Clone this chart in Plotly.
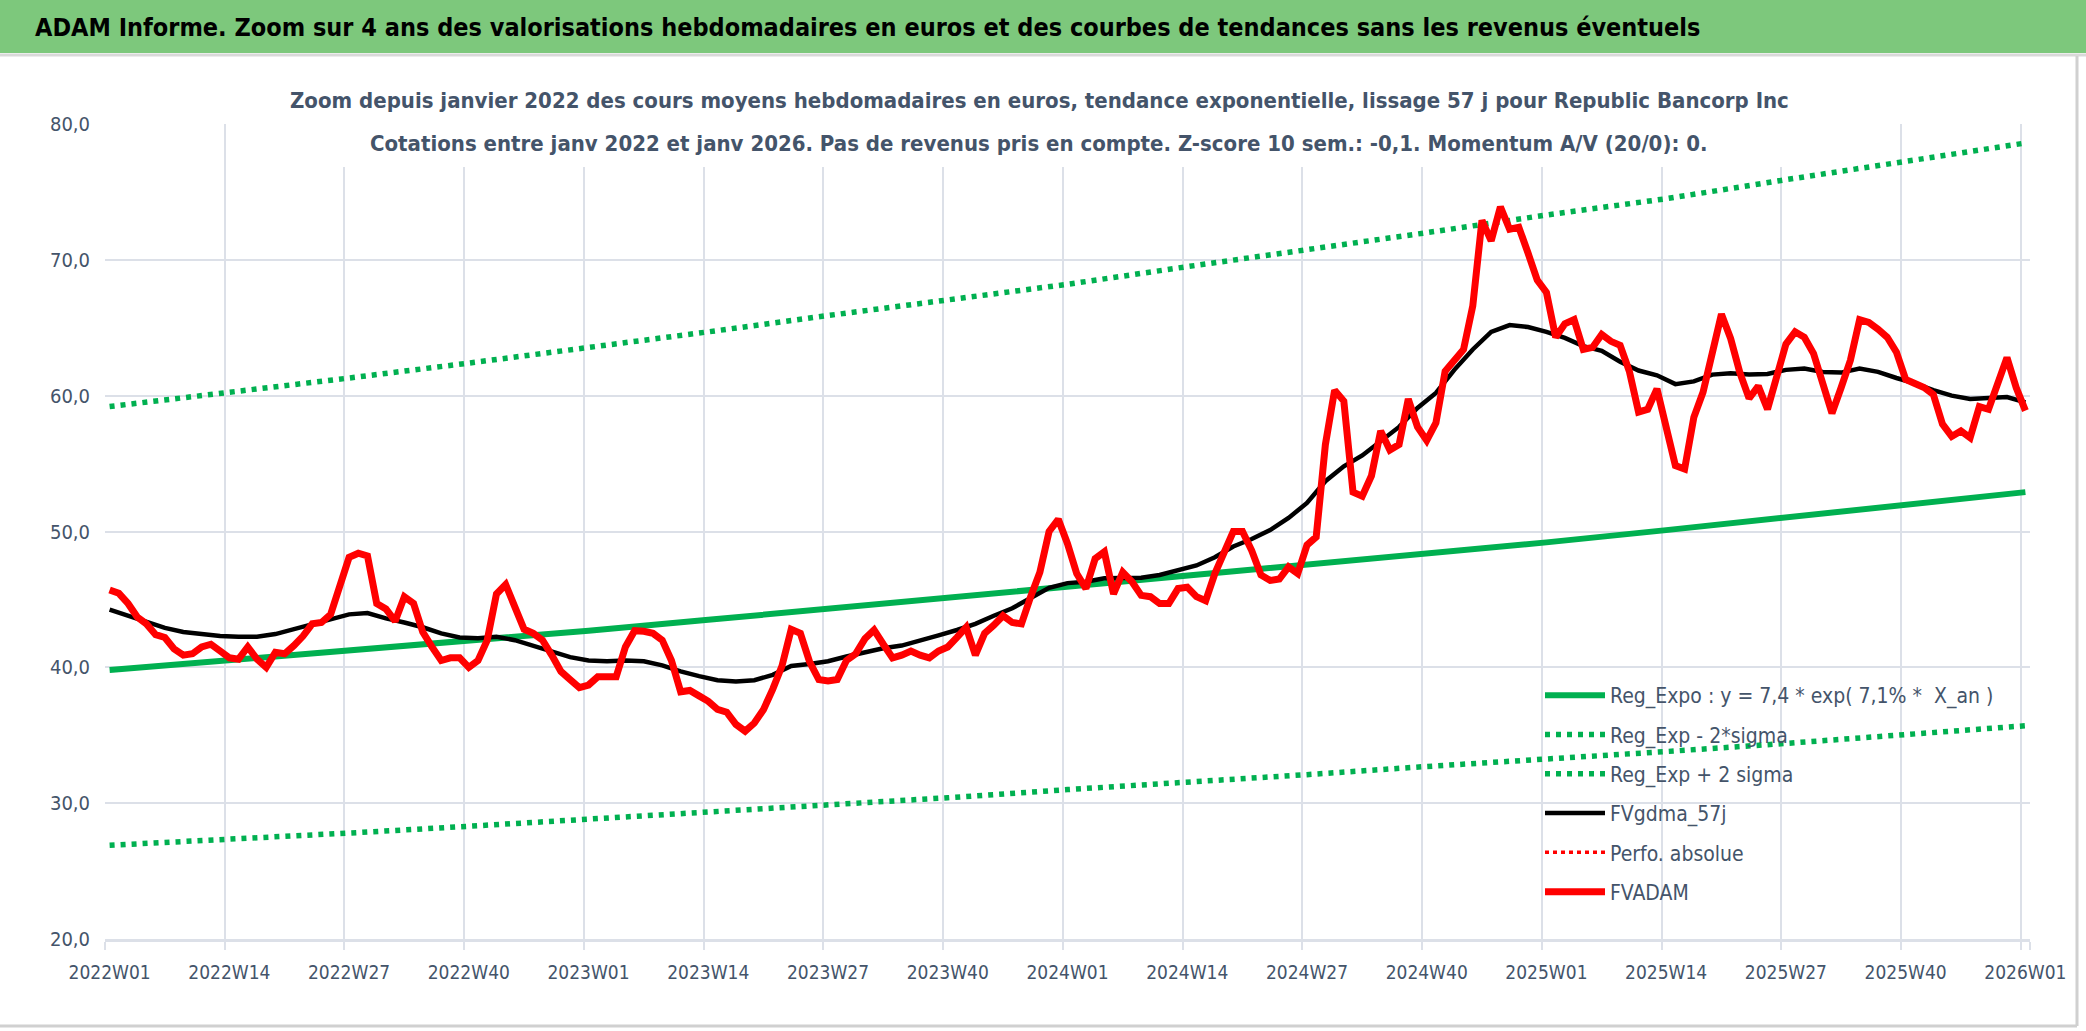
import plotly.graph_objects as go

# weekly categories 2022W01 .. 2026W01
weeks = [f"{y}W{w:02d}" for y in (2022, 2023, 2024, 2025) for w in range(1, 53)] + ["2026W01"]
tick_weeks = weeks[::13]

# FVADAM : cours moyen hebdo (euros)
fvadam = [
    45.7, 45.45, 44.7, 43.7, 43.2, 42.4, 42.2, 41.35, 40.9, 41.0,
    41.5, 41.7, 41.2, 40.7, 40.6, 41.5, 40.6, 40.0, 41.1, 41.0,
    41.6, 42.3, 43.2, 43.3, 43.9, 46.0, 48.1, 48.4, 48.2, 44.7,
    44.3, 43.4, 45.2, 44.7, 42.6, 41.5, 40.5, 40.7, 40.7, 40.0,
    40.5, 42.0, 45.4, 46.1, 44.5, 42.8, 42.5, 42.0, 40.9, 39.7,
    39.1, 38.5, 38.7, 39.3, 39.3, 39.3, 41.5, 42.7, 42.65, 42.5,
    42.0, 40.5, 38.2, 38.3, 37.9, 37.5, 36.9, 36.7, 35.8, 35.3,
    35.9, 36.9, 38.4, 40.1, 42.8, 42.5, 40.4, 39.1, 39.0, 39.1,
    40.5, 41.0, 42.1, 42.75, 41.7, 40.7, 40.9, 41.2, 40.9, 40.7,
    41.2, 41.5, 42.2, 42.95, 40.9, 42.5, 43.1, 43.8, 43.3, 43.2,
    45.2, 47.0, 50.0, 50.9, 49.1, 46.9, 45.8, 48.0, 48.5, 45.4,
    47.0, 46.3, 45.3, 45.2, 44.7, 44.7, 45.8, 45.9, 45.2, 44.9,
    46.9, 48.4, 50.0, 50.0, 48.6, 46.8, 46.4, 46.5, 47.4, 46.9,
    49.0, 49.6, 56.4, 60.4, 59.6, 52.9, 52.6, 54.1, 57.4, 56.0,
    56.4, 59.75, 57.7, 56.7, 58.0, 61.8, 62.7, 63.4, 66.6, 72.9,
    71.4, 73.9, 72.25, 72.4, 70.5, 68.5, 67.6, 64.3, 65.3, 65.6,
    63.4, 63.55, 64.5, 64.0, 63.7, 61.8, 58.8, 59.0, 60.5, 57.7,
    54.85, 54.6, 58.4, 60.25, 63.1, 66.0, 64.2, 61.7, 59.8, 60.7,
    59.0, 61.6, 63.8, 64.7, 64.3, 63.1, 60.7, 58.7, 60.6, 62.6,
    65.6, 65.4, 64.9, 64.3, 63.2, 61.2, 60.9, 60.6, 60.1, 57.9,
    57.0, 57.4, 56.9, 59.2, 59.0, 61.0, 62.8, 60.6, 58.9,
]

# FVgdma_57j : lissage, lu toutes les 2 semaines
gdma_weeks = weeks[::2]
fvgdma = [
    44.25, 43.8, 43.3, 42.9, 42.6, 42.45, 42.3, 42.25, 42.25, 42.45,
    42.8, 43.2, 43.5, 43.9, 44.0, 43.6, 43.3, 42.95, 42.5, 42.2,
    42.15, 42.25, 42.0, 41.6, 41.15, 40.75, 40.5, 40.45, 40.5, 40.45,
    40.15, 39.7, 39.35, 39.05, 38.95, 39.05, 39.45, 40.1, 40.25, 40.45,
    40.8, 41.1, 41.4, 41.6, 41.95, 42.35, 42.75, 43.2, 43.8, 44.35,
    45.1, 45.85, 46.2, 46.3, 46.55, 46.55, 46.6, 46.8, 47.15, 47.5,
    48.1, 48.9, 49.45, 50.1, 51.0, 52.1, 53.7, 54.8, 55.6, 56.6,
    57.7, 59.1, 60.2, 61.9, 63.4, 64.7, 65.2, 65.05, 64.7, 64.25,
    63.65, 63.3, 62.5, 61.85, 61.5, 60.85, 61.05, 61.55, 61.65, 61.55,
    61.6, 61.9, 62.0, 61.75, 61.7, 62.0, 61.75, 61.3, 60.9, 60.4,
    60.0, 59.75, 59.8, 59.9, 59.5,
]

# regression exponentielle et bandes +/- 2 sigma (lues aux graduations)
reg_expo = [39.8, 40.5, 41.2, 42.0, 42.7, 43.5, 44.3, 45.1, 45.9, 46.7, 47.5, 48.4, 49.2, 50.1, 51.0, 51.9, 52.9]
reg_minus = [26.9, 27.3, 27.8, 28.3, 28.8, 29.4, 29.9, 30.4, 31.0, 31.5, 32.1, 32.7, 33.2, 33.8, 34.4, 35.0, 35.7]
reg_plus = [59.2, 60.2, 61.3, 62.4, 63.5, 64.7, 65.9, 67.0, 68.2, 69.5, 70.7, 72.0, 73.3, 74.5, 75.9, 77.2, 78.6]

y_ticks = [20, 30, 40, 50, 60, 70, 80]

NARROW = "Liberation Sans Narrow, DejaVu Sans Condensed, Arial Narrow, sans-serif"
TXT = "#44546A"
GREEN = "#00B050"
GRID = "#DCE0E8"

W, H = 2086, 1031
L, R, T, B = 105, 56, 124, 92
PW, PH = W - L - R, H - T - B


def px_x(v):
    return (v - L) / PW


def px_y(v):
    return (H - B - v) / PH


fig = go.Figure()
fig.add_trace(go.Scatter(x=tick_weeks, y=reg_expo, mode="lines", name="Reg_Expo : y = 7,4 * exp( 7,1% *  X_an )",
                         line=dict(color=GREEN, width=6), legendgroup="a"))
fig.add_trace(go.Scatter(x=tick_weeks, y=reg_minus, mode="lines", name="Reg_Exp - 2*sigma",
                         line=dict(color=GREEN, width=5.5, dash="5px,6px"), legendgroup="b"))
fig.add_trace(go.Scatter(x=tick_weeks, y=reg_plus, mode="lines", name="Reg_Exp + 2 sigma",
                         line=dict(color=GREEN, width=5.5, dash="5px,6px"), legendgroup="c"))
fig.add_trace(go.Scatter(x=gdma_weeks, y=fvgdma, mode="lines", name="FVgdma_57j",
                         line=dict(color="black", width=4.5), legendgroup="d"))
fig.add_trace(go.Scatter(x=[None], y=[None], mode="lines", name="Perfo. absolue",
                         line=dict(color="#FF0000", width=3.5, dash="4px,4px"), legendgroup="e"))
fig.add_trace(go.Scatter(x=weeks, y=fvadam, mode="lines", name="FVADAM",
                         line=dict(color="#FF0000", width=7), legendgroup="f"))

shapes = [
    # bandeau titre
    dict(type="rect", xref="paper", yref="paper", x0=px_x(0), x1=px_x(W), y0=px_y(53), y1=px_y(0),
         fillcolor="#7DC87C", line=dict(width=0), layer="below"),
    dict(type="line", xref="paper", yref="paper", x0=px_x(0), x1=px_x(W), y0=px_y(55), y1=px_y(55),
         line=dict(color="#D9D9D9", width=3), layer="below"),
    # cadre du graphique
    dict(type="line", xref="paper", yref="paper", x0=px_x(2077), x1=px_x(2077), y0=px_y(56), y1=px_y(1026),
         line=dict(color="#D0D0D0", width=3), layer="below"),
    dict(type="line", xref="paper", yref="paper", x0=px_x(0), x1=px_x(2077), y0=px_y(1026), y1=px_y(1026),
         line=dict(color="#D0D0D0", width=3), layer="below"),
    # fond blanc du titre du graphique
    dict(type="rect", xref="paper", yref="paper", x0=px_x(285), x1=px_x(1793), y0=px_y(167), y1=px_y(57),
         fillcolor="white", line=dict(width=0), layer="above"),
]

annotations = [
    dict(text="<b>ADAM Informe. Zoom sur 4 ans des valorisations hebdomadaires en euros et des courbes de tendances sans les revenus éventuels</b>",
         xref="paper", yref="paper", x=px_x(33), y=px_y(27), xanchor="left", yanchor="middle", showarrow=False,
         font=dict(family=NARROW, size=25, color="black")),
    dict(text="<b>Zoom depuis janvier 2022 des cours moyens hebdomadaires en euros, tendance exponentielle, lissage 57 j pour Republic Bancorp Inc</b>",
         xref="paper", yref="paper", x=px_x(1039), y=px_y(101), xanchor="center", yanchor="middle", showarrow=False,
         font=dict(family=NARROW, size=22, color=TXT)),
    dict(text="<b>Cotations entre janv 2022 et janv 2026. Pas de revenus pris en compte. Z-score 10 sem.: -0,1. Momentum A/V (20/0): 0.</b>",
         xref="paper", yref="paper", x=px_x(1039), y=px_y(144), xanchor="center", yanchor="middle", showarrow=False,
         font=dict(family=NARROW, size=22, color=TXT)),
]

fig.update_layout(
    width=W, height=H,
    margin=dict(l=L, r=R, t=T, b=B),
    paper_bgcolor="white", plot_bgcolor="white",
    separators=", ",
    showlegend=True,
    legend=dict(x=px_x(1540), y=px_y(675), xanchor="left", yanchor="top",
                bgcolor="rgba(0,0,0,0)", traceorder="grouped", tracegroupgap=9,
                font=dict(family=NARROW, size=21, color=TXT), itemwidth=60),
    shapes=shapes,
    annotations=annotations,
    xaxis=dict(type="category", categoryorder="array", categoryarray=weeks,
               range=[-0.5, len(weeks) - 0.5], tickmode="array", tickvals=tick_weeks,
               tickson="boundaries", showgrid=True, gridcolor=GRID, gridwidth=2,
               ticks="outside", ticklen=8, tickcolor=GRID, tickwidth=2, tickangle=0,
               showline=True, linecolor=GRID, linewidth=3, ticklabelstandoff=14,
               tickfont=dict(family=NARROW, size=19, color=TXT), zeroline=False),
    yaxis=dict(range=[20, 80], tickvals=y_ticks, tickformat=".1f", showgrid=True,
               gridcolor=GRID, gridwidth=2, zeroline=False, ticks="", ticklabelstandoff=14,
               tickfont=dict(family=NARROW, size=20, color=TXT)),
)

fig.write_html("out.html", config={"displayModeBar": False},
               post_script="document.body.style.margin='0';document.body.style.overflow='hidden';")
